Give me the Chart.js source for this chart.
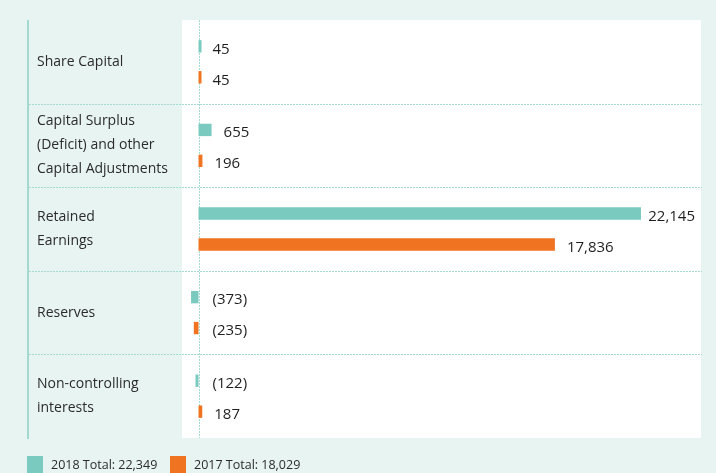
<!DOCTYPE html>
<html>
<head>
<meta charset="utf-8">
<script src="https://cdn.jsdelivr.net/npm/chart.js@4/dist/chart.umd.min.js"></script>
<style>
  html, body { margin: 0; padding: 0; background: #e8f4f2; }
  #wrap { width: 716px; height: 473px; }
</style>
</head>
<body>
<div id="wrap"><canvas id="equityChart" width="716" height="473"></canvas></div>
<script>
"use strict";

// equity components, 2018 vs 2017
var categories = [
  ["Share Capital"],
  ["Capital Surplus", "(Deficit) and other", "Capital Adjustments"],
  ["Retained", "Earnings"],
  ["Reserves"],
  ["Non-controlling", "interests"]
];
var years = ["2018", "2017"];
var values2018 = [45, 655, 22145, -373, -122];
var values2017 = [45, 196, 17836, -235, 187];
var totals = [22349, 18029];

var TEAL = "#7bcabf";
var ORANGE = "#f07321";
var GRID = "#a6dbd1";
var FONT = "'Open Sans', 'Noto Sans', sans-serif";

var fmt = function (v) {
  var s = Math.abs(v).toLocaleString("en-US");
  return v < 0 ? "(" + s + ")" : s;
};

// page panels, separators, category names, value labels and legend
var decor = {
  id: "decor",
  beforeDraw: function (chart) {
    var ctx = chart.ctx;
    var a = chart.chartArea;
    var x = chart.scales.x;
    var y = chart.scales.y;
    var band = (a.bottom - a.top) / categories.length;
    ctx.save();
    ctx.fillStyle = "#ffffff";
    ctx.fillRect(a.left, a.top, a.right - a.left, a.bottom - a.top);

    // left rule
    ctx.fillStyle = "#a3d9cf";
    ctx.fillRect(27, a.top, 2, a.bottom - a.top + 1);

    // dotted separators between categories
    ctx.strokeStyle = GRID;
    ctx.lineWidth = 1;
    ctx.setLineDash([2, 1]);
    for (var i = 1; i < categories.length; i++) {
      var yy = Math.round(a.top + band * i) + 0.5;
      ctx.beginPath();
      ctx.moveTo(29, yy);
      ctx.lineTo(a.right + 1, yy);
      ctx.stroke();
    }
    // zero line
    var zx = Math.round(x.getPixelForValue(0)) + 0.5;
    ctx.beginPath();
    ctx.moveTo(zx, a.top);
    ctx.lineTo(zx, a.bottom);
    ctx.stroke();
    ctx.setLineDash([]);

    // category names
    ctx.fillStyle = "#2b2b2b";
    ctx.font = "14px " + FONT;
    ctx.textAlign = "left";
    ctx.textBaseline = "middle";
    categories.forEach(function (lines, i) {
      var cy = y.getPixelForValue(i);
      var start = cy - (lines.length - 1) * 12;
      lines.forEach(function (t, j) {
        ctx.fillText(t, 37, start + j * 24);
      });
    });
    ctx.restore();
  },
  afterDatasetsDraw: function (chart) {
    var ctx = chart.ctx;
    var a = chart.chartArea;
    var x = chart.scales.x;
    var zero = x.getPixelForValue(0);
    ctx.save();
    ctx.fillStyle = "#1f1f1f";
    ctx.font = "15px " + FONT;
    ctx.textAlign = "left";
    ctx.textBaseline = "middle";
    chart.data.datasets.forEach(function (ds, di) {
      chart.getDatasetMeta(di).data.forEach(function (bar, i) {
        var v = ds.data[i];
        var txt = fmt(v);
        var end = Math.max(x.getPixelForValue(v), zero + 2);
        // keep long labels inside the white panel
        var lx = Math.min(end + 12, a.right - 6 - ctx.measureText(txt).width);
        ctx.fillText(txt, lx, bar.y + 3);
      });
    });

    // legend
    var lx = 27;
    ctx.font = "12.5px " + FONT;
    chart.data.datasets.forEach(function (ds, di) {
      ctx.fillStyle = ds.backgroundColor;
      ctx.fillRect(lx, 456, 16, 17);
      ctx.fillStyle = "#2b2b2b";
      var txt = ds.label + " Total: " + fmt(totals[di]);
      ctx.fillText(txt, lx + 24, 465);
      lx = 170;
    });
    ctx.restore();
  }
};

new Chart(document.getElementById("equityChart"), {
  type: "bar",
  data: {
    labels: categories,
    datasets: [
      { label: years[0], data: values2018, backgroundColor: TEAL },
      { label: years[1], data: values2017, backgroundColor: ORANGE }
    ]
  },
  options: {
    indexAxis: "y",
    responsive: false,
    animation: false,
    layout: { padding: { left: 182, right: 15, top: 20, bottom: 35 } },
    datasets: { bar: { categoryPercentage: 0.74, barPercentage: 0.4, minBarLength: 3 } },
    scales: {
      x: { display: false, min: -826, max: 25148 },
      y: { display: false }
    },
    plugins: {
      legend: { display: false },
      tooltip: { enabled: false }
    }
  },
  plugins: [decor]
});
</script>
</body>
</html>
